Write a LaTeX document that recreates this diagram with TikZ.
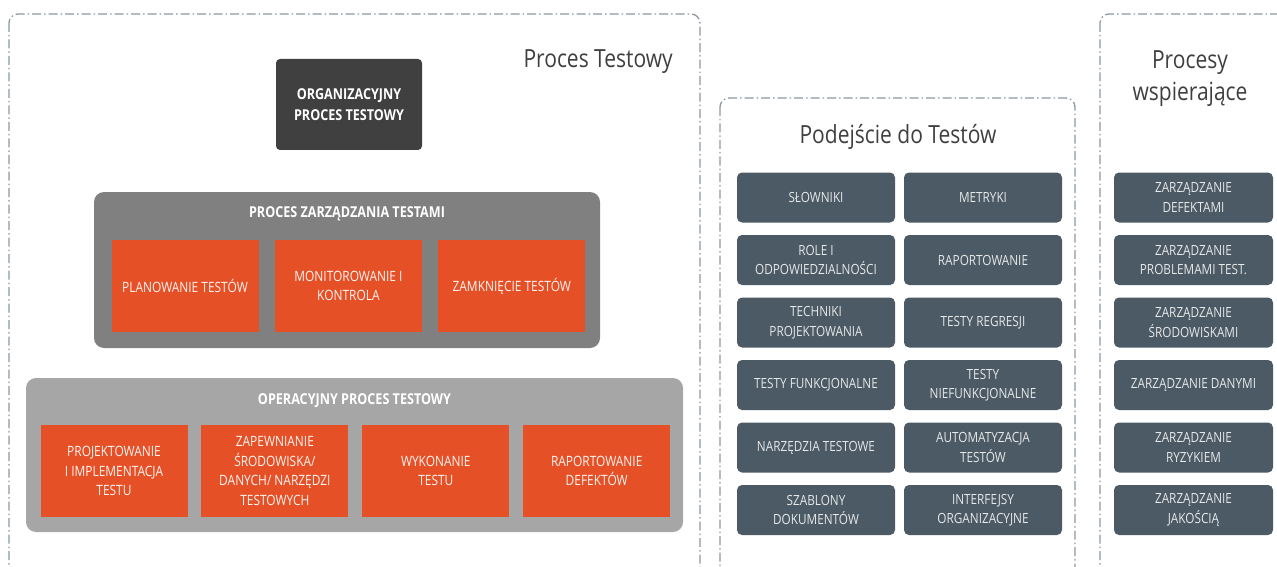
\documentclass[tikz,border=0pt]{standalone}
\usepackage{fontspec}
\setmainfont{Open Sans}[FakeStretch=0.84]
\usepackage{xcolor}
\usetikzlibrary{positioning}

\definecolor{orng}{HTML}{E65026}
\definecolor{darkbox}{HTML}{404040}
\definecolor{mgmtgrey}{HTML}{808080}
\definecolor{opgrey}{HTML}{A6A6A6}
\definecolor{slate}{HTML}{4B5A64}
\definecolor{framegrey}{HTML}{8C97A0}
\definecolor{titlegrey}{HTML}{3F3F3F}

\begin{document}
\begin{tikzpicture}[
    x=1pt, y=-1pt,
    frm/.style={draw=framegrey, line width=1.3pt, rounded corners=9pt,
      dash pattern=on 9pt off 3pt on 1.5pt off 3pt},
    ttl/.style={font=\fontsize{25}{32}\selectfont, text=titlegrey, align=center, inner sep=0pt},
    grp/.style={rounded corners=10pt, inner sep=0pt},
    hd/.style={font=\bfseries\fontsize{15}{17}\selectfont, text=white, inner sep=0pt},
    task/.style={fill=orng, text=white!94!orng, minimum width=147pt, minimum height=92pt,
      align=center, inner sep=2pt, font=\fontsize{14.2}{19.5}\selectfont},
    tile/.style={fill=slate, rounded corners=5pt, text=white!86!slate, minimum width=158pt,
      minimum height=50pt, align=center, inner sep=2pt, font=\fontsize{14}{19.5}\selectfont}
  ]
    \useasboundingbox (0,0) rectangle (1277,567);
    \clip (0,0) rectangle (1277,567);

    % Dash-dot frames (run off the bottom)
    \draw[frm] (9,14) rectangle (700,620);
    \draw[frm] (720,98) rectangle (1075,620);
    \draw[frm] (1100,14) rectangle (1320,620);

    % Frame titles
    \node[ttl, anchor=base east] (tproc) at (673,68) {Proces Testowy};
    \node[ttl, anchor=base] (tpod) at (898,143) {Podejście do Testów};
    \node[ttl] (twsp) at (1190,79) {Procesy\\wspierające};

    % Organisational process
    \node[fill=darkbox, rounded corners=4pt, minimum width=146pt, minimum height=91pt,
      align=center, text=white, font=\bfseries\fontsize{15}{21}\selectfont] (org) at (349,104.5)
      {ORGANIZACYJNY\\PROCES TESTOWY};

    % Test management process
    \node[grp, fill=mgmtgrey, minimum width=506pt, minimum height=156pt] (mgmt) at (347,270) {};
    \node[hd] (mgmthd) at (347,214) {PROCES ZARZĄDZANIA TESTAMI};
    \node[task] (plan) at (185,286) {PLANOWANIE TESTÓW};
    \node[task, right=16pt of plan] (mon) {MONITOROWANIE I\\KONTROLA};
    \node[task, right=16pt of mon] (close) {ZAMKNIĘCIE TESTÓW};

    % Operational test process
    \node[grp, fill=opgrey, minimum width=657pt, minimum height=154pt] (ops) at (354.5,455) {};
    \node[hd] (opshd) at (354.5,401) {OPERACYJNY PROCES TESTOWY};
    \node[task] (design) at (114,471) {PROJEKTOWANIE\\I IMPLEMENTACJA\\TESTU};
    \node[task, right=13.5pt of design] (env) {ZAPEWNIANIE\\ŚRODOWISKA/\\DANYCH/ NARZĘDZI\\TESTOWYCH};
    \node[task, right=13.5pt of env] (exec) {WYKONANIE\\TESTU};
    \node[task, right=13.5pt of exec] (defrep) {RAPORTOWANIE\\DEFEKTÓW};

    % Test approach tiles
    \node[tile] (slow) at (816,197.5) {SŁOWNIKI};
    \node[tile] (metr) at (983,197.5) {METRYKI};
    \node[tile] (role) at (816,260) {ROLE I\\ODPOWIEDZIALNOŚCI};
    \node[tile] (rap) at (983,260) {RAPORTOWANIE};
    \node[tile] (tech) at (816,322.5) {TECHNIKI\\PROJEKTOWANIA};
    \node[tile] (regr) at (983,322.5) {TESTY REGRESJI};
    \node[tile] (func) at (816,385) {TESTY FUNKCJONALNE};
    \node[tile] (nfunc) at (983,385) {TESTY\\NIEFUNKCJONALNE};
    \node[tile] (tools) at (816,447.5) {NARZĘDZIA TESTOWE};
    \node[tile] (auto) at (983,447.5) {AUTOMATYZACJA\\TESTÓW};
    \node[tile] (templ) at (816,510) {SZABLONY\\DOKUMENTÓW};
    \node[tile] (iface) at (983,510) {INTERFEJSY\\ORGANIZACYJNE};

    % Supporting processes
    \node[tile, minimum width=159pt] (zdef) at (1193.5,197.5) {ZARZĄDZANIE\\DEFEKTAMI};
    \node[tile, minimum width=159pt] (zprob) at (1193.5,260) {ZARZĄDZANIE\\PROBLEMAMI TEST.};
    \node[tile, minimum width=159pt] (zenv) at (1193.5,322.5) {ZARZĄDZANIE\\ŚRODOWISKAMI};
    \node[tile, minimum width=159pt] (zdat) at (1193.5,385) {ZARZĄDZANIE DANYMI};
    \node[tile, minimum width=159pt] (zrisk) at (1193.5,447.5) {ZARZĄDZANIE\\RYZYKIEM};
    \node[tile, minimum width=159pt] (zqual) at (1193.5,510) {ZARZĄDZANIE\\JAKOŚCIĄ};

  \end{tikzpicture}
\end{document}
